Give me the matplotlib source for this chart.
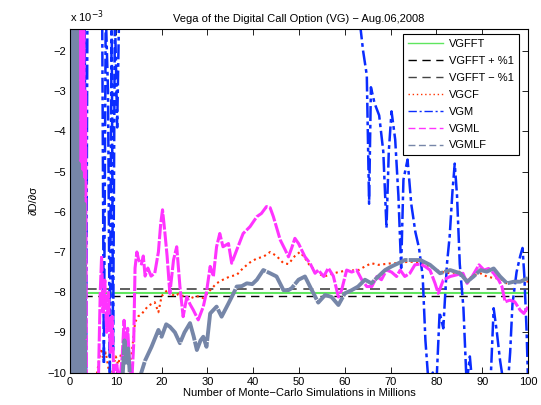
import matplotlib
matplotlib.use("Agg")
import matplotlib.pyplot as plt

plt.rcParams['font.family'] = ['Liberation Sans', 'DejaVu Sans']
plt.rcParams['axes.unicode_minus'] = True

# Значения производной (в единицах 1e-3) по числу симуляций (млн)
vgfft = -8.01
vgfft_plus = -8.09
vgfft_minus = -7.93

vgcf_x = [5.5, 6.2, 6.8, 7.3, 7.8, 8.4, 9.0, 9.5, 10.0, 10.5, 11.0, 11.5, 12.0, 12.5,
          13.0, 13.5, 14.2, 14.9, 15.6, 16.3, 17.0, 17.7, 18.5, 19.3, 20.0, 20.8, 21.5,
          22.2, 22.9, 23.6, 24.3, 25.0, 26.2, 27.4, 28.4, 29.1, 30.6, 32.0, 33.4, 34.9,
          36.4, 37.8, 39.3, 40.8, 42.2, 43.7, 45.1, 46.6, 47.7, 49.1, 50.2, 51.3, 52.4,
          53.5, 54.5, 55.5, 57.0, 58.6, 60.0, 61.5, 63.0, 64.4, 65.8, 67.3, 68.8, 70.2,
          71.7, 72.5, 74.3, 76.5, 78.6, 80.8, 83.0, 85.2, 86.7, 88.1, 89.6, 91.0, 92.5,
          93.9, 95.4, 96.9, 98.3, 100.0]
vgcf_y = [-10.3, -9.8, -9.4, -9.7, -9.5, -9.9, -10.2, -9.8, -9.6, -9.8, -9.6, -9.4, -9.7, -9.6,
          -9.8, -9.5, -8.75, -8.6, -8.55, -8.45, -8.35, -8.3, -8.25, -8.5, -8.1, -8.0, -7.92,
          -8.05, -8.1, -8.05, -8.1, -8.08, -8.16, -8.1, -8.11, -8.15, -7.95, -7.78, -7.69, -7.61,
          -7.57, -7.4, -7.26, -7.16, -7.12, -7.0, -7.1, -7.28, -7.3, -7.1, -7.0, -7.15, -7.35,
          -7.45, -7.55, -7.61, -7.55, -7.5, -7.47, -7.46, -7.45, -7.36, -7.28, -7.32, -7.3, -7.28,
          -7.28, -7.26, -7.24, -7.28, -7.36, -7.49, -7.53, -7.49, -7.7, -7.58, -7.53, -7.61, -7.65,
          -7.66, -7.78, -7.74, -7.7, -7.74]

vgm_x = [0.3, 0.6, 0.9, 1.2, 1.5, 1.9, 2.3, 2.6, 2.9, 3.2, 3.5, 3.8, 5.0, 7.0, 7.4, 7.8,
         8.3, 8.7, 9.1, 9.4, 9.8, 10.3, 10.8, 30.0, 61.5, 63.3, 64.0, 64.8, 65.3, 65.7,
         66.5, 67.5, 68.4, 69.1, 69.6, 70.2, 71.0, 71.7, 72.3, 72.8, 73.7, 74.5, 75.4,
         76.2, 77.0, 77.6, 78.3, 79.2, 80.0, 80.7, 81.5, 82.3, 82.9, 83.5, 84.0, 84.5,
         85.1, 85.9, 86.6, 87.3, 88.0, 91.8, 92.5, 93.2, 93.9, 94.7, 95.6, 96.1, 96.6,
         97.5, 98.3, 98.8, 99.2, 99.7, 100.0]
vgm_y = [-0.5, -1.0, -10.5, -1.0, -10.5, -1.0, -0.5, -1.0, -10.5, -1.0, -10.5, -1.0, -0.5, -0.5, -9.8, -1.0,
         -3.0, -10.0, -1.0, -9.5, -1.0, -3.9, -0.5, -0.5, -0.5, -1.3, -2.0, -2.6, -5.8, -2.9,
         -3.3, -3.6, -4.5, -6.4, -4.5, -3.5, -4.2, -5.6, -7.4, -5.2, -4.7, -5.8, -6.5,
         -6.9, -7.6, -9.2, -10.3, -10.0, -10.3, -8.5, -8.9, -7.3, -6.6, -5.5, -4.8, -5.6,
         -7.3, -8.4, -10.3, -9.6, -10.5, -10.3, -8.4, -9.0, -9.7, -10.3, -10.3, -9.5, -8.3,
         -7.5, -7.1, -6.9, -7.6, -9.0, -10.2]

vgml_x = [1.8, 2.0, 2.2, 2.4, 2.6, 2.8, 3.0, 3.2, 3.4, 3.6, 3.8, 6.0, 6.2, 6.6, 6.9, 7.2,
          7.6, 8.0, 8.4, 8.8, 9.2, 9.6, 10.2, 10.8, 11.4, 11.8, 12.2, 12.6, 13.0, 13.5,
          13.9, 14.2, 14.6, 15.0, 15.6, 16.0, 16.4, 17.0, 17.7, 18.5, 19.3, 19.8, 20.2,
          20.7, 21.2, 21.8, 22.6, 23.3, 24.0, 24.7, 25.5, 26.2, 26.9, 28.0, 29.1, 29.8,
          30.6, 31.3, 32.0, 32.7, 33.4, 34.6, 35.3, 36.4, 37.8, 39.3, 40.8, 41.8, 42.9,
          43.7, 44.4, 45.9, 47.0, 47.7, 48.4, 49.1, 49.9, 51.3, 52.4, 53.5, 54.2, 55.4,
          56.4, 57.5, 58.6, 59.3, 60.4, 61.5, 62.6, 63.7, 64.8, 65.9, 67.0, 68.0, 69.1,
          70.2, 71.3, 72.1, 73.1, 74.2, 75.3, 76.5, 77.5, 78.6, 79.7, 80.4, 81.5, 83.0,
          84.4, 85.8, 86.7, 87.8, 89.3, 90.4, 91.4, 92.5, 93.6, 94.3, 95.0, 96.0, 97.1,
          98.3, 99.1, 100.0]
vgml_y = [-1.0, -10.5, -1.0, -10.5, -1.0, -10.5, -1.0, -10.5, -3.0, -10.5, -10.5, -10.5, -10.2, -8.0, -7.1, -8.5,
          -7.7, -9.0, -8.0, -9.5, -8.6, -10.3, -9.8, -10.3, -9.6, -8.7, -9.3, -8.9, -9.8, -10.2,
          -9.3, -7.4, -7.0, -7.2, -7.3, -7.1, -7.6, -7.4, -7.6, -7.53, -7.0, -6.3, -5.95,
          -6.5, -7.1, -8.03, -7.2, -6.87, -7.86, -8.61, -8.12, -8.3, -8.44, -8.69, -8.36, -8.0,
          -7.36, -7.61, -6.87, -6.54, -6.87, -6.79, -7.28, -6.95, -6.54, -6.37, -6.12, -6.04, -5.87,
          -5.9, -6.12, -6.7, -6.95, -7.12, -6.9, -6.66, -6.79, -7.12, -7.28, -7.53, -7.45, -7.61,
          -7.4, -7.6, -8.12, -7.95, -7.45, -7.5, -7.45, -7.69, -7.86, -7.86, -7.61, -7.69, -7.45,
          -7.5, -7.61, -7.45, -7.61, -7.53, -7.32, -7.3, -7.36, -7.45, -7.78, -8.03, -7.7, -7.61,
          -7.57, -7.53, -7.78, -7.61, -7.32, -7.45, -7.41, -7.53, -7.7, -7.86, -8.24, -8.2, -8.24,
          -8.45, -8.53, -8.36]

vgmlf_x = [0.2, 0.35, 0.5, 0.65, 0.8, 0.95, 1.1, 1.25, 1.4, 1.55, 1.7, 1.9, 2.1, 2.3, 2.5,
           2.7, 2.9, 3.1, 3.3, 3.5, 11.4, 11.9, 12.3, 12.7, 13.2, 15.3, 16.4, 17.8, 19.3,
           20.0, 21.0, 21.8, 22.9, 24.0, 25.0, 26.2, 27.0, 27.7, 28.5, 29.1, 29.8, 30.6,
           32.0, 33.1, 34.6, 35.7, 36.4, 37.5, 38.6, 39.8, 40.8, 42.2, 43.7, 45.1, 46.6,
           47.7, 48.4, 49.9, 51.3, 52.8, 54.2, 55.7, 57.1, 58.6, 60.0, 61.5, 62.9, 64.4,
           65.8, 67.3, 68.8, 70.2, 71.7, 73.1, 74.3, 76.5, 78.6, 80.8, 83.0, 85.2, 86.7,
           88.1, 89.6, 91.0, 92.5, 93.9, 95.4, 96.9, 98.3, 100.0]
vgmlf_y = [-9.0, -1.0, -10.5, -1.0, -10.5, -1.0, -10.5, -1.0, -10.5, -1.0, -10.5, -4.8, -10.5, -5.0, -10.5,
           -5.2, -10.5, -5.8, -10.5, -10.5, -10.3, -9.2, -9.8, -9.4, -10.3, -10.1, -9.7, -9.36, -8.94,
           -9.11, -8.8, -8.86, -9.0, -9.27, -9.0, -8.77, -9.1, -9.44, -9.2, -9.11, -9.36, -8.53,
           -8.36, -8.61, -8.28, -8.03, -7.86, -7.85, -7.78, -7.8, -7.69, -7.45, -7.53, -7.61, -7.95,
           -7.95, -7.9, -7.69, -7.61, -7.95, -8.26, -8.07, -8.12, -8.32, -8.03, -7.95, -7.86, -7.69,
           -7.78, -7.61, -7.45, -7.36, -7.28, -7.2, -7.2, -7.2, -7.32, -7.53, -7.45, -7.53, -7.74,
           -7.61, -7.45, -7.49, -7.41, -7.61, -7.78, -7.74, -7.74, -7.65]

fig = plt.figure(figsize=(5.41, 4.05), dpi=100)
ax = fig.add_axes([0.1294, 0.0802, 0.8466, 0.8482])

ax.plot([0, 100], [vgfft, vgfft], color='#5fe65f', lw=1.5, label='VGFFT')
ax.plot([0, 100], [vgfft_plus, vgfft_plus], color='black', lw=1.0, ls='--', dashes=(6, 4), label='VGFFT + %1')
ax.plot([0, 100], [vgfft_minus, vgfft_minus], color='#444444', lw=1.2, ls='--', dashes=(6, 4), label='VGFFT − %1')
ax.plot(vgcf_x, vgcf_y, color='#ff3300', lw=1.5, ls=':', label='VGCF')
ax.plot(vgm_x, vgm_y, color='#0a2cff', lw=1.8, ls='-.', dashes=(6, 1.5, 1.5, 1.5), label='VGM')
ax.plot(vgml_x, vgml_y, color='#ff33ff', lw=2.2, ls='--', dashes=(5, 0.6), label='VGML')
ax.plot(vgmlf_x, vgmlf_y, color='#7686a8', lw=2.8, ls='--', dashes=(10, 0.3), label='VGMLF')

ax.set_xlim(0, 100)
ax.set_ylim(-10, -1.45)
ax.set_xticks(range(0, 101, 10))
ax.set_yticks(range(-10, -1))
ax.tick_params(direction='in', top=True, right=True, labelsize=8, length=4, width=0.6, pad=3)
for s in ax.spines.values():
    s.set_linewidth(0.8)

ax.set_title('Vega of the Digital Call Option (VG) − Aug.06,2008', fontsize=8, pad=5)
ax.set_xlabel('Number of Monte−Carlo Simulations in Millions', fontsize=8, labelpad=1)
ax.set_ylabel('∂D/∂σ', fontsize=8, labelpad=6)
ax.text(0.0, 1.012, 'x 10$^{-3}$', transform=ax.transAxes, fontsize=8, ha='left', va='bottom')

leg = ax.legend(loc='upper right', bbox_to_anchor=(0.980, 0.985), borderaxespad=0,
                fontsize=8, fancybox=False, framealpha=1, edgecolor='black',
                handlelength=3.2, handletextpad=0.5, labelspacing=0.62, borderpad=0.45)
leg.get_frame().set_linewidth(0.8)
# тонкие линии в легенде
for line, style in zip(leg.get_lines(), ['-', (0, (6, 4)), (0, (6, 4)), (0, (1, 2)),
                                          (0, (6, 2, 1.5, 2)), (0, (5, 2.5)), (0, (5, 2.5))]):
    line.set_linewidth(1.0)
    line.set_linestyle(style)

plt.savefig('out.png', dpi=100)
